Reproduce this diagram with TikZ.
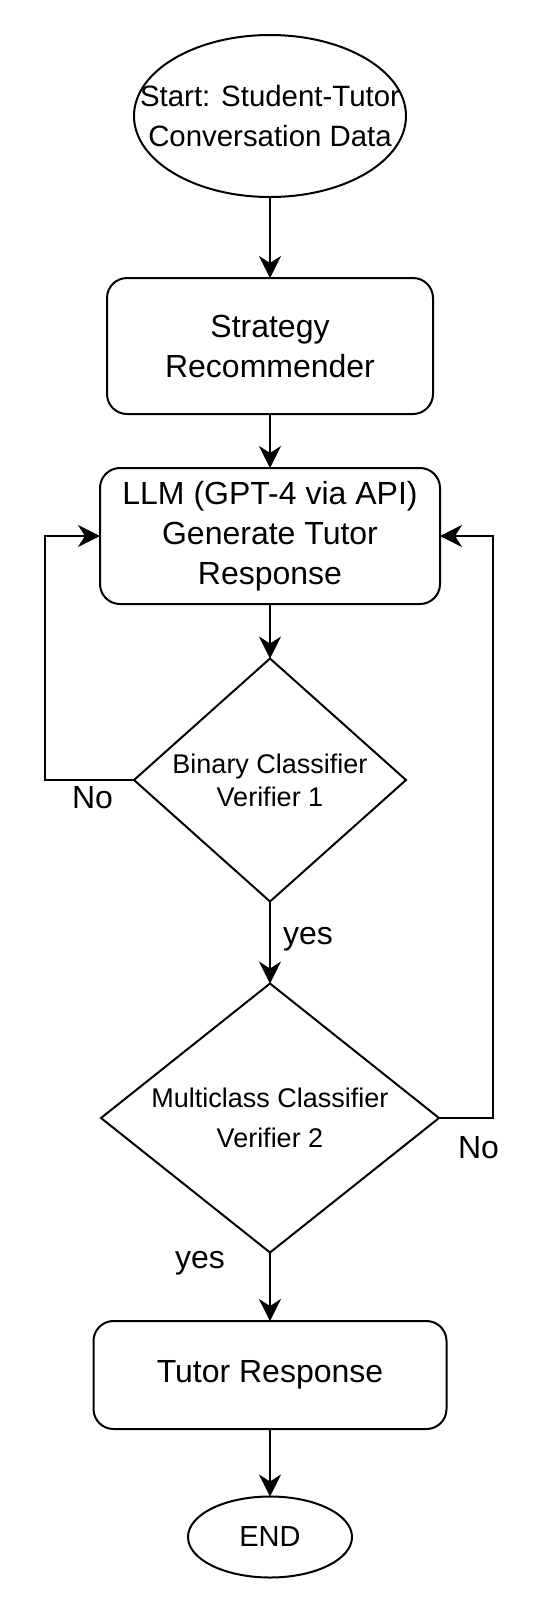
\documentclass[tikz,border=0pt]{standalone}
\usepackage{fontspec}
\setmainfont{Liberation Sans}
\usetikzlibrary{shapes.geometric,arrows.meta}
\begin{document}
\begin{tikzpicture}[x=1pt,y=-1pt,
  every node/.style={inner sep=0pt, outer sep=0pt},
  arr/.style={line width=2pt, -{Stealth[length=22pt,width=22pt,inset=7pt]}},
  proc/.style={draw, line width=2pt, rectangle, rounded corners=20pt, align=center, font=\fontsize{32}{40}\selectfont},
  dec/.style={draw, line width=2pt, diamond, align=center},
  term/.style={draw, line width=2pt, ellipse},
  lbl/.style={font=\fontsize{32}{38}\selectfont, anchor=base west}
]
\fill[white] (0,0) rectangle (545,1618);
\useasboundingbox (0,0) rectangle (545,1618);

\node[term, minimum width=272pt, minimum height=162pt] (start) at (270,116) {};
\node[align=center, font=\fontsize{29.4}{40}\selectfont] (starttext) at (start.center) {Start: Student-Tutor\\Conversation Data};

\node[proc, minimum width=326pt, minimum height=136pt] (strat) at (270,346) {Strategy\\Recommender};
\node[proc, minimum width=340pt, minimum height=136pt] (llm) at (270,536) {LLM (GPT-4 via API)\\Generate Tutor\\Response};
\node[dec, minimum width=272pt, minimum height=243pt, aspect=1.12, font=\fontsize{27}{33}\selectfont] (v1) at (270,780) {Binary Classifier\\Verifier 1};
\node[dec, minimum width=338pt, minimum height=269pt, aspect=1.257, font=\fontsize{27}{40}\selectfont] (v2) at (270,1118) {Multiclass Classifier\\Verifier 2};
\node[proc, minimum width=353pt, minimum height=108pt] (tutor) at (270,1375) {Tutor Response};
\node[term, minimum width=164pt, minimum height=81pt, font=\fontsize{29}{35}\selectfont] (end) at (270,1537) {END};

\draw[arr] (start.south) -- (strat.north);
\draw[arr] (strat.south) -- (llm.north);
\draw[arr] (llm.south) -- (v1.north);
\draw[arr] (v1.south) -- (v2.north);
\draw[arr] (v2.south) -- (tutor.north);
\draw[arr] (tutor.south) -- (end.north);

\draw[arr] (v1.west) -- ++(-89,0) |- (llm.west);
\draw[arr] (v2.east) -- ++(54,0) |- (llm.east);

\node[lbl] (no1) at (72,808) {No};
\node[lbl] (yes1) at (283,944) {yes};
\node[lbl] (no2) at (458,1158) {No};
\node[lbl] (yes2) at (175,1268) {yes};
\end{tikzpicture}
\end{document}
